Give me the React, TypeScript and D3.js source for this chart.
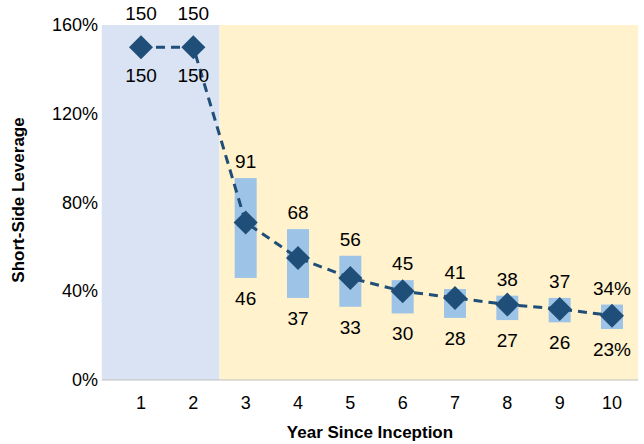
import React from "react";
import * as d3 from "d3";

const years = [1, 2, 3, 4, 5, 6, 7, 8, 9, 10];
const mid = [150, 150, 71, 55, 46, 40, 37, 34, 32, 29];
const hi = [150, 150, 91, 68, 56, 45, 41, 38, 37, 34];
const lo = [150, 150, 46, 37, 33, 30, 28, 27, 26, 23];
const yTicks = [0, 40, 80, 120, 160];

export default function App() {
  const x = d3.scaleLinear().domain([1, 10]).range([141, 612]);
  const y = d3.scaleLinear().domain([0, 160]).range([380, 25]);
  const left = x(0.25), right = x(10.5), mid2 = x(2.5);
  const line = d3.line<number>().x((_, i) => x(years[i])).y((d) => y(d));
  const font = "Liberation Sans, Arial, sans-serif";
  const fmt = (v: number, i: number) => (i === 9 ? v + "%" : String(v));
  return (
    <svg width={644} height={444} style={{ position: "absolute", left: 0, top: 0 }} fontFamily={font}>
      <rect x={left} y={y(160)} width={mid2 - left} height={y(0) - y(160)} fill="#dae3f3" />
      <rect x={mid2} y={y(160)} width={right - mid2} height={y(0) - y(160)} fill="#fff2cc" />
      {years.map((yr, i) =>
        i >= 2 ? (
          <rect key={yr} x={x(yr) - 11} y={y(hi[i])} width={22} height={y(lo[i]) - y(hi[i])} fill="#9dc3e6" />
        ) : null
      )}
      <line x1={left} x2={right} y1={y(0)} y2={y(0)} stroke="#bfbfbf" />
      <path d={line(mid) || ""} fill="none" stroke="#1f4e79" strokeWidth={3} strokeDasharray="9,6" />
      {years.map((yr, i) => (
        <rect key={yr} x={x(yr) - 8.5} y={y(mid[i]) - 8.5} width={17} height={17} fill="#1f4e79"
          transform={`rotate(45 ${x(yr)} ${y(mid[i])})`} />
      ))}
      {years.map((yr, i) => (
        <g key={"l" + yr} fontSize={19} textAnchor="middle" fill="#000">
          <text x={x(yr)} y={i < 2 ? 20 : y(hi[i]) - 10}>{fmt(hi[i], i)}</text>
          <text x={x(yr)} y={i < 2 ? 82 : y(lo[i]) + 27}>{fmt(lo[i], i)}</text>
        </g>
      ))}
      {yTicks.map((t) => (
        <text key={t} x={98} y={y(t) + 6} fontSize={18} textAnchor="end">{t}%</text>
      ))}
      {years.map((yr) => (
        <text key={"x" + yr} x={x(yr)} y={409} fontSize={18} textAnchor="middle">{yr}</text>
      ))}
      <text x={370} y={438} fontSize={17} fontWeight="bold" textAnchor="middle">Year Since Inception</text>
      <text transform="translate(24,200) rotate(-90)" fontSize={17} fontWeight="bold" textAnchor="middle">Short-Side Leverage</text>
    </svg>
  );
}
